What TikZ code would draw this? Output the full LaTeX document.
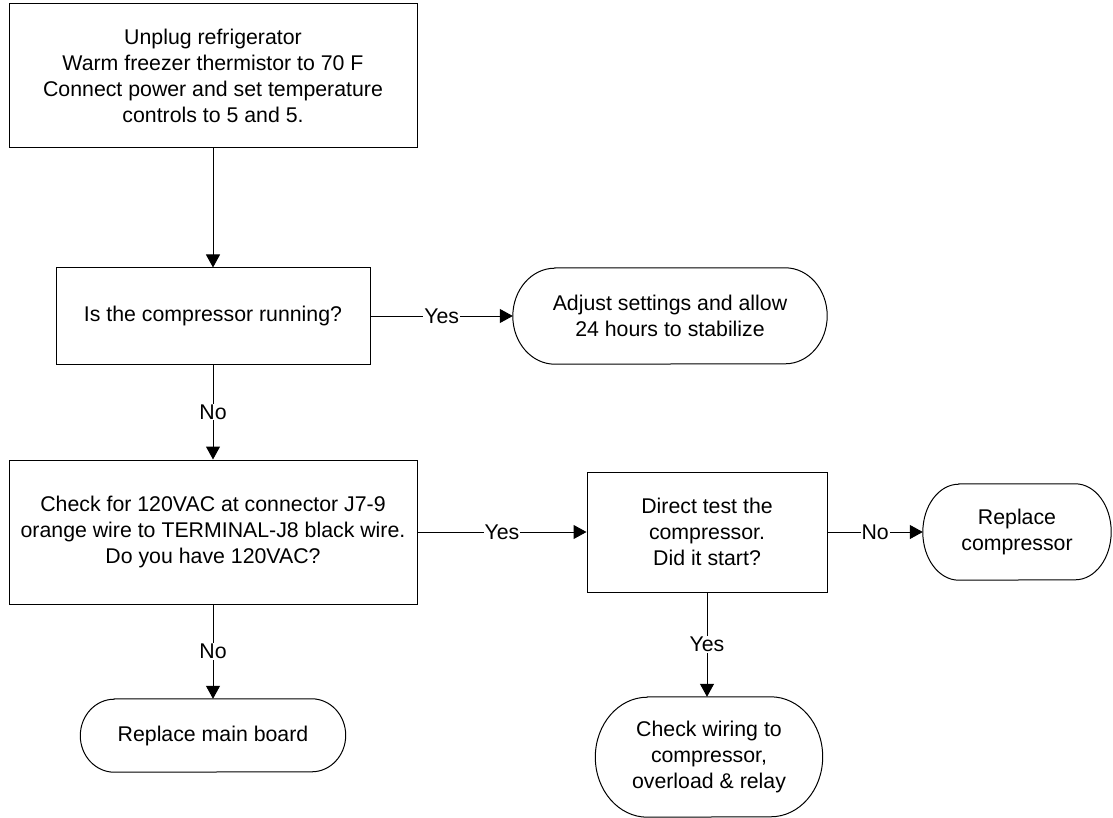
\documentclass[tikz,border=0pt]{standalone}
\usepackage{fontspec}
\setmainfont{Liberation Sans}
\usetikzlibrary{arrows.meta}
\newcommand\termoutline[3]{%
  \draw[line] ([xshift=#2]#1.north west) -- ([xshift=-#2]#1.north east)
    arc[start angle=90,end angle=-90,x radius=#2,y radius=#3]
    -- ([xshift=#2]#1.south west)
    arc[start angle=270,end angle=90,x radius=#2,y radius=#3] -- cycle;}
\begin{document}
\begin{tikzpicture}[x=1pt,y=-1pt,
  line/.style={line width=1pt,draw=black},
  base/.style={inner sep=0pt,align=center,font=\fontsize{21.3}{26}\selectfont},
  box/.style={base,draw=black,line width=1pt},
  term/.style={base},
  lbl/.style={fill=white,inner sep=1pt,font=\fontsize{21.3}{26}\selectfont},
  arr/.style={line,-{Triangle[width=14pt,length=13pt]}}]
\useasboundingbox (0,0) rectangle (1113,818);
\node[box,minimum width=408pt,minimum height=144pt] (b1) at (213,76)
  {Unplug refrigerator\\Warm freezer thermistor to 70 F\\Connect power and set temperature\\controls to 5 and 5.};
\node[box,minimum width=314pt,minimum height=96pt] (b2) at (213,316)
  {Is the compressor running?};
\node[term,minimum width=314pt,minimum height=96pt] (t1) at (670,316)
  {Adjust settings and allow\\24 hours to stabilize};
\node[box,minimum width=408pt,minimum height=144pt] (b3) at (213,532)
  {Check for 120VAC at connector J7-9\\orange wire to TERMINAL-J8 black wire.\\Do you have 120VAC?};
\node[box,minimum width=240pt,minimum height=120pt] (b4) at (707,532)
  {Direct test the\\compressor.\\Did it start?};
\node[term,minimum width=188pt,minimum height=96pt] (t2) at (1017,532)
  {Replace\\compressor};
\node[term,minimum width=265pt,minimum height=73pt] (t3) at (213,735.5)
  {Replace main board};
\node[term,minimum width=227pt,minimum height=120pt] (t4) at (709,757)
  {Check wiring to\\compressor,\\overload \& relay};
\termoutline{t1}{42pt}{48pt}
\termoutline{t2}{36pt}{48pt}
\termoutline{t3}{34pt}{36.5pt}
\termoutline{t4}{52pt}{60pt}
\draw[arr] (b1) -- (b2);
\draw[arr] (b2) -- node[lbl]{Yes} (t1);
\draw[arr] (b2) -- node[lbl]{No} (b3);
\draw[arr] (b3) -- node[lbl]{Yes} (b4);
\draw[arr] (b4) -- node[lbl]{No} (t2);
\draw[arr] (b3) -- node[lbl]{No} (t3);
\draw[arr] (b4.south) -- node[lbl]{Yes} (b4.south |- t4.north);
\end{tikzpicture}
\end{document}
